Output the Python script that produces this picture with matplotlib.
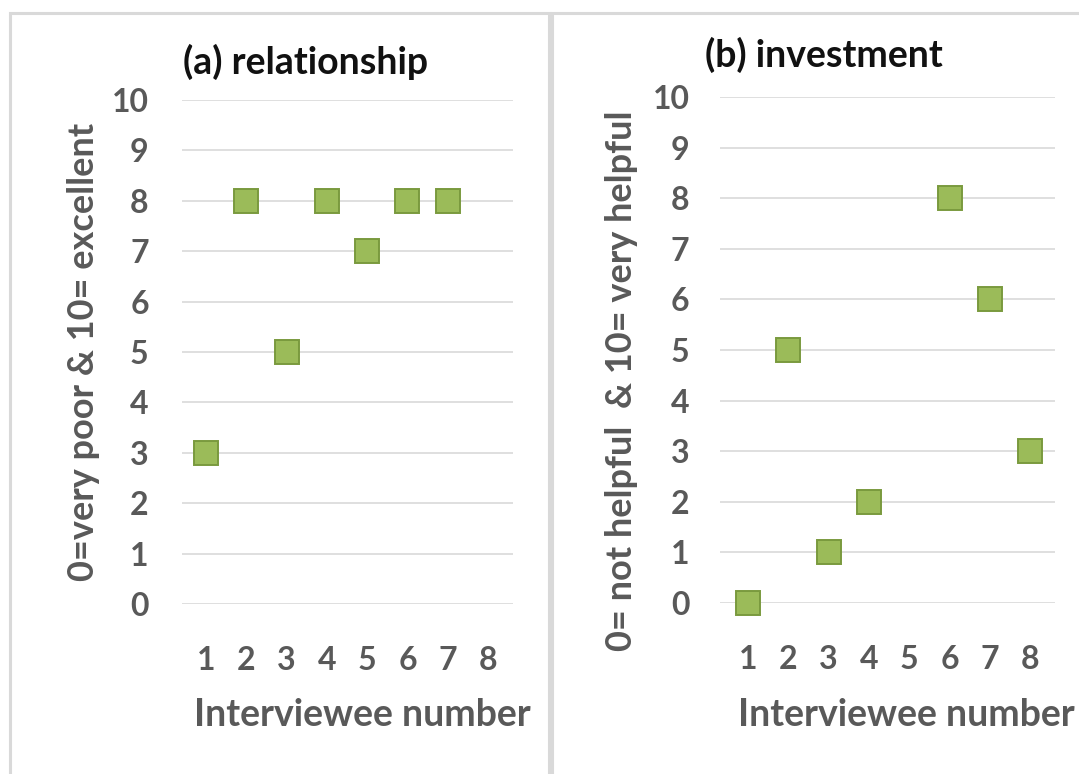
import matplotlib
matplotlib.use("Agg")
from matplotlib import pyplot as plt
from matplotlib.patches import Rectangle

plt.rcParams['font.family'] = ['Lato', 'DejaVu Sans']
plt.rcParams['font.weight'] = 'bold'
plt.rcParams['axes.labelweight'] = 'bold'

# scores per interviewee
rel_x = [1, 2, 3, 4, 5, 6, 7]
rel_y = [3, 8, 5, 8, 7, 8, 8]
inv_x = [1, 2, 3, 4, 6, 7, 8]
inv_y = [0, 5, 1, 2, 8, 6, 3]

x_ticks = [1, 2, 3, 4, 5, 6, 7, 8]
y_ticks = list(range(0, 11))

grey = "#595959"
grid_col = "#D9D9D9"
fill = "#9BBB59"
edge = "#7A9A3E"

W, H = 1079, 774
fig = plt.figure(figsize=(W / 100, H / 100), dpi=100)

# panel frames
for x0, x1 in [(10, 549), (552, 1100)]:
    fig.patches.append(Rectangle((x0 / W, -0.05), (x1 - x0) / W, (H - 13) / H + 0.05,
                                 transform=fig.transFigure, fill=False,
                                 edgecolor=grid_col, linewidth=2.2))


def panel(rect, xs, ys, xlim, ylabel, ylab_pos, xlab_pos, pad):
    ax = fig.add_axes(rect)
    ax.plot(xs, ys, linestyle="none", marker="s", markersize=17,
            markerfacecolor=fill, markeredgecolor=edge, markeredgewidth=1.4,
            clip_on=False, zorder=3)
    ax.set_xlim(*xlim)
    ax.set_ylim(0, 10)
    ax.set_xticks(x_ticks)
    ax.set_yticks(y_ticks)
    ax.grid(axis="y", color=grid_col, linewidth=1.2)
    ax.set_axisbelow(True)
    for s in ax.spines.values():
        s.set_visible(False)
    ax.tick_params(length=0, labelsize=23, labelcolor=grey)
    ax.tick_params(axis="y", pad=pad)
    ax.tick_params(axis="x", pad=30)
    ax.set_ylabel(ylabel, fontsize=26, color=grey, va="center")
    ax.yaxis.set_label_coords(*ylab_pos)
    ax.set_xlabel("Interviewee number", fontsize=27, color=grey, va="center")
    ax.xaxis.set_label_coords(*xlab_pos)
    return ax


panel([182 / W, (H - 604) / H, 331 / W, 504 / H], rel_x, rel_y, (0.4, 8.62),
      "0=very poor & 10= excellent", (-0.299, 0.5), (0.544, -0.22), 24)
panel([720 / W, (H - 603) / H, 335 / W, 506 / H], inv_x, inv_y, (0.3, 8.62),
      "0= not helpful  & 10= very helpful", (-0.293, 0.44), (0.555, -0.221), 22)

fig.text(306 / W, 1 - 62 / H, "(a) relationship", fontsize=27, color="#111111",
         ha="center", va="center")
fig.text(824 / W, 1 - 55 / H, "(b) investment", fontsize=27, color="#111111",
         ha="center", va="center")

fig.savefig("out.png", dpi=100)
